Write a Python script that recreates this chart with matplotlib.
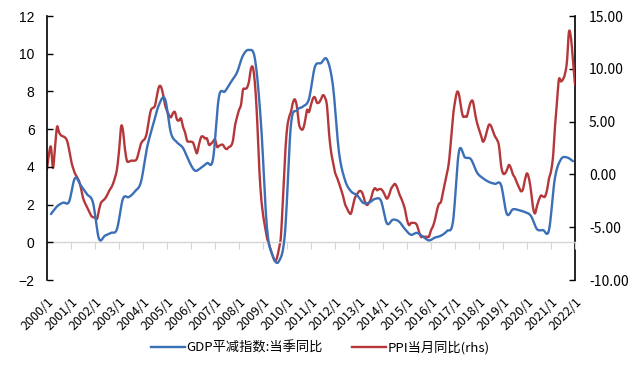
import numpy as np
import pandas as pd
import matplotlib
matplotlib.use("Agg")
import matplotlib.pyplot as plt
import matplotlib.dates as mdates
from matplotlib.lines import Line2D

# ---------------- data ----------------
# GDP deflator, quarterly YoY (%), left axis, 2000Q1 .. 2021Q4
gdp_deflator = [
    1.5, 1.9, 2.1, 2.15,      # 2000
    3.4, 3.0, 2.55, 2.1,      # 2001
    0.2, 0.35, 0.5, 0.7,      # 2002
    2.3, 2.4, 2.7, 3.2,       # 2003
    5.0, 6.2, 7.3, 7.6,       # 2004
    5.8, 5.3, 5.0, 4.3,       # 2005
    3.8, 3.95, 4.2, 4.4,      # 2006
    7.7, 8.0, 8.5, 9.0,       # 2007
    9.9, 10.2, 9.7, 6.3,      # 2008
    0.8, -0.75, -1.0, 0.5,    # 2009
    6.2, 7.0, 7.2, 7.6,       # 2010
    9.3, 9.5, 9.7, 8.3,       # 2011
    4.8, 3.3, 2.7, 2.5,       # 2012
    2.1, 2.1, 2.3, 2.2,       # 2013
    1.0, 1.2, 1.1, 0.7,       # 2014
    0.4, 0.5, 0.3, 0.1,       # 2015
    0.25, 0.35, 0.6, 1.1,     # 2016
    4.8, 4.5, 4.4, 3.7,       # 2017
    3.4, 3.2, 3.1, 3.05,      # 2018
    1.5, 1.75, 1.7, 1.6,      # 2019
    1.4, 0.7, 0.65, 0.65,     # 2020
    3.4, 4.4, 4.5, 4.3,       # 2021
]

# PPI, monthly YoY (%), right axis, 2000-01 .. 2022-01
ppi = [
    0.5, 2.0, 2.6, 0.6, 2.5, 4.5, 4.0, 3.7, 3.6, 3.5, 3.2, 2.4,            # 2000
    1.3, 0.6, 0.1, -0.25, -0.6, -1.3, -2.2, -2.7, -3.1, -3.5, -3.9, -4.05,  # 2001
    -4.1, -4.2, -3.4, -2.7, -2.5, -2.3, -2.0, -1.6, -1.3, -0.9, -0.3, 0.5,  # 2002
    2.2, 4.5, 4.2, 2.4, 1.3, 1.2, 1.3, 1.3, 1.3, 1.5, 2.2, 2.9,             # 2003
    3.2, 3.4, 4.0, 5.2, 6.1, 6.3, 6.5, 7.5, 8.3, 8.3, 7.6, 6.6,             # 2004
    6.0, 5.6, 5.4, 5.8, 5.9, 5.2, 5.1, 5.3, 4.5, 4.0, 3.2, 3.1,             # 2005
    3.1, 3.0, 2.5, 2.0, 2.8, 3.5, 3.6, 3.4, 3.4, 2.8, 2.9, 3.1,             # 2006
    3.3, 2.6, 2.7, 2.8, 2.8, 2.5, 2.4, 2.6, 2.7, 3.2, 4.6, 5.4,             # 2007
    6.1, 6.6, 8.0, 8.1, 8.2, 8.8, 10.0, 10.1, 8.5, 5.5, 1.0, -2.0,          # 2008
    -3.8, -5.0, -6.0, -6.6, -7.2, -7.8, -8.2, -7.9, -7.0, -5.8, -2.1, 1.7,  # 2009
    4.3, 5.4, 5.9, 6.8, 7.1, 6.4, 4.8, 4.3, 4.3, 5.0, 6.1, 5.9,             # 2010
    6.6, 7.2, 7.3, 6.8, 6.8, 7.1, 7.5, 7.3, 6.5, 4.0, 2.2, 1.2,             # 2011
    0.2, -0.3, -0.8, -1.4, -2.0, -2.8, -3.2, -3.6, -3.7, -2.9, -2.2, -1.9,  # 2012
    -1.6, -1.6, -1.9, -2.6, -2.9, -2.7, -2.3, -1.6, -1.3, -1.5, -1.4, -1.4, # 2013
    -1.6, -2.0, -2.3, -2.0, -1.4, -1.1, -0.9, -1.2, -1.8, -2.2, -2.7, -3.3, # 2014
    -4.3, -4.8, -4.6, -4.6, -4.6, -4.8, -5.4, -5.9, -5.9, -5.9, -5.9, -5.9, # 2015
    -5.3, -4.9, -4.3, -3.4, -2.8, -2.6, -1.7, -0.8, 0.1, 1.2, 3.3, 5.5,     # 2016
    6.9, 7.8, 7.6, 6.4, 5.5, 5.5, 5.5, 6.3, 6.9, 6.9, 5.8, 4.9,             # 2017
    4.3, 3.7, 3.1, 3.4, 4.1, 4.7, 4.6, 4.1, 3.6, 3.3, 2.7, 0.9,             # 2018
    0.1, 0.1, 0.4, 0.9, 0.6, 0.0, -0.3, -0.8, -1.2, -1.6, -1.4, -0.5,       # 2019
    0.1, -0.4, -1.5, -3.1, -3.7, -3.0, -2.4, -2.0, -2.1, -2.1, -1.5, -0.4,  # 2020
    0.3, 1.7, 4.4, 6.8, 9.0, 8.8, 9.0, 9.5, 10.7, 13.5, 12.9, 10.8,         # 2021
    8.5,                                                                    # 2022
]

years = list(range(2000, 2023))
tick_labels = [f"{y}/1" for y in years]
legend_labels = ["GDP平减指数:当季同比", "PPI当月同比(rhs)"]

# ---------------- style ----------------
blue = "#3B6FB6"
red = "#B5373A"
cjk = ["Noto Sans CJK SC", "DejaVu Sans"]
plt.rcParams["font.family"] = cjk

x_ppi = mdates.date2num(pd.date_range("2000-01-01", periods=len(ppi), freq="MS"))
x_gdp = mdates.date2num(pd.date_range("2000-03-01", periods=len(gdp_deflator), freq="3MS"))
x_ticks = mdates.date2num(pd.to_datetime([f"{y}-01-01" for y in years]))


def smooth(x, y, n=10):
    """Catmull-Rom smoothing for display (like Excel smoothed lines)."""
    x = np.asarray(x, float)
    y = np.asarray(y, float)
    P = np.column_stack([x, y])
    P = np.vstack([P[0], P, P[-1]])
    out = []
    t = np.linspace(0, 1, n, endpoint=False)[:, None]
    for i in range(1, len(P) - 2):
        p0, p1, p2, p3 = P[i - 1], P[i], P[i + 1], P[i + 2]
        seg = 0.5 * ((2 * p1) + (-p0 + p2) * t + (2 * p0 - 5 * p1 + 4 * p2 - p3) * t ** 2
                     + (-p0 + 3 * p1 - 3 * p2 + p3) * t ** 3)
        out.append(seg)
    out.append(P[-2][None, :])
    out = np.vstack(out)
    return out[:, 0], out[:, 1]


fig = plt.figure(figsize=(6.4, 3.69), dpi=100)
ax = fig.add_axes([47 / 640, 1 - 280 / 369, 528 / 640, 264 / 369])
ax2 = ax.twinx()

ax.set_xlim(x_ticks[0], x_ticks[-1])
ax.set_ylim(-2, 12)
ax2.set_ylim(-10, 15)

sx, sy = smooth(x_gdp, gdp_deflator)
ax.plot(sx, sy, color=blue, lw=1.7, solid_capstyle="round", zorder=3)
sx2, sy2 = smooth(x_ppi, ppi)
ax2.plot(sx2, sy2, color=red, lw=1.7, solid_capstyle="round", zorder=3)
ax.set_zorder(ax2.get_zorder() + 1)
ax.patch.set_visible(False)

# left axis
ax.set_yticks(range(-2, 13, 2))
ax.tick_params(axis="y", direction="in", length=4, width=1, pad=9, labelsize=10,
               color="black")
for lbl in ax.get_yticklabels():
    lbl.set_fontfamily(["Liberation Sans", "DejaVu Sans"])
ax.spines["left"].set_linewidth(1.2)
ax.spines["top"].set_visible(False)
ax.spines["right"].set_visible(False)
ax.spines["bottom"].set_visible(False)

# right axis
ax2.set_yticks(range(-10, 16, 5))
ax2.set_yticklabels([f"{v:.2f}" for v in range(-10, 16, 5)])
ax2.tick_params(axis="y", direction="in", length=4, width=1, pad=10, labelsize=10)
ax2.spines["right"].set_linewidth(1.2)
for s in ["top", "left", "bottom"]:
    ax2.spines[s].set_visible(False)

# x labels at the bottom
ax.set_xticks(x_ticks)
ax.set_xticklabels(tick_labels, rotation=45, ha="right", rotation_mode="anchor",
                   fontsize=9)
ax.tick_params(axis="x", length=0, pad=11)

# zero line with ticks
sec = ax.secondary_xaxis(2 / 14)
sec.set_xticks(x_ticks)
sec.tick_params(axis="x", direction="out", length=5, color="#D6D6D6", labelbottom=False)
sec.spines["bottom"].set_color("#D6D6D6")
sec.spines["bottom"].set_linewidth(1.0)

handles = [Line2D([], [], color=blue, lw=1.7), Line2D([], [], color=red, lw=1.7)]
fig.legend(handles, legend_labels, loc="center", bbox_to_anchor=(0.5, 1 - 348 / 369),
           ncol=2, frameon=False, fontsize=9.5, handlelength=2.6, handletextpad=0.1,
           columnspacing=2.2)

fig.savefig("out.png", dpi=100)
